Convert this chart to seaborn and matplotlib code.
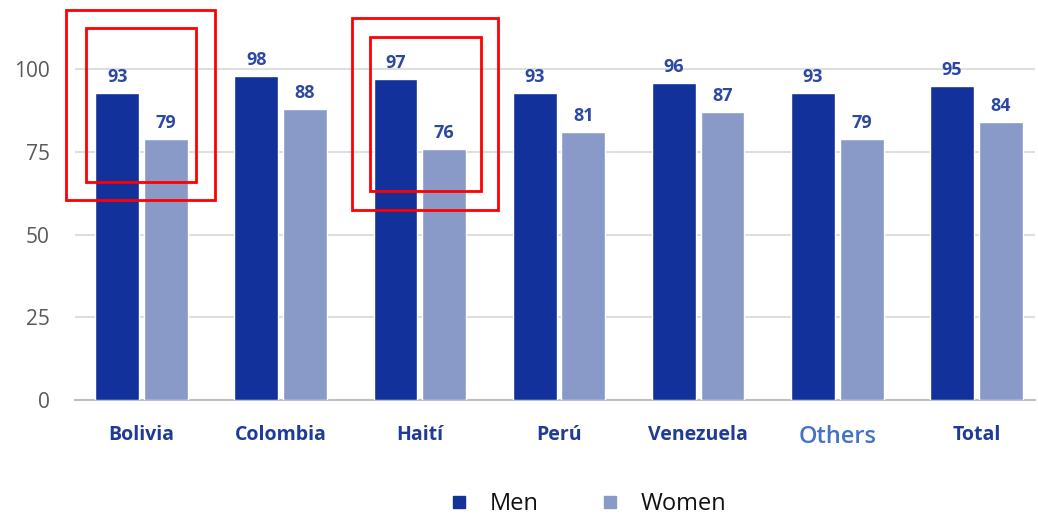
import matplotlib
matplotlib.use("Agg")
import matplotlib.pyplot as plt
from matplotlib.patches import Rectangle
from matplotlib.lines import Line2D
import seaborn as sns
import pandas as pd

# Values per country of origin, by sex
countries = ["Bolivia", "Colombia", "Haití", "Perú", "Venezuela", "Others", "Total"]
men = [93, 98, 97, 93, 96, 93, 95]
women = [79, 88, 76, 81, 87, 79, 84]
series = ["Men", "Women"]
yticks = [0, 25, 50, 75, 100]

MEN_C = "#13319a"
WOMEN_C = "#8a9ac8"
LABEL_C = "#2d48a3"
CAT_C = "#1f3a98"
OTHERS_C = "#4472c4"

df = pd.DataFrame({
    "country": countries * 2,
    "sex": [series[0]] * len(countries) + [series[1]] * len(countries),
    "value": men + women,
})

sns.set_theme(style="white")
plt.rcParams["font.family"] = ["Open Sans", "DejaVu Sans"]

fig = plt.figure(figsize=(10.38, 5.14), dpi=100)
ax = fig.add_axes([0.072, 0.222, 0.925, 0.778])

sns.barplot(data=df, x="country", y="value", hue="sex", order=countries,
            hue_order=series, palette=[MEN_C, WOMEN_C], width=0.7, gap=0.1,
            saturation=1, legend=False, ax=ax, zorder=3)

for cont in ax.containers:
    ax.bar_label(cont, fmt="%d", padding=5, color=LABEL_C,
                 fontsize=13, fontweight="bold")

ax.set_ylim(0, 121)
ax.set_xlim(-0.48, 6.42)
ax.set_yticks(yticks)
ax.yaxis.grid(True, color="#dedede", linewidth=1.5, zorder=0)
ax.set_axisbelow(True)
for side in ["left", "right", "top"]:
    ax.spines[side].set_visible(False)
ax.spines["bottom"].set_color("#bfbfbf")
ax.spines["bottom"].set_linewidth(1.5)
ax.tick_params(axis="y", length=0, pad=18, labelsize=15, labelcolor="#595959")
ax.tick_params(axis="x", length=0, pad=18)
ax.set_xlabel("")
ax.set_ylabel("")

for lbl in ax.get_xticklabels():
    if lbl.get_text() == "Others":
        lbl.set_color(OTHERS_C)
        lbl.set_fontsize(17)
        lbl.set_fontweight("semibold")
    else:
        lbl.set_color(CAT_C)
        lbl.set_fontsize(14)
        lbl.set_fontweight("bold")

# Highlight boxes around Bolivia and Haití
boxes = [
    (0, -0.54, 0.525, 60.6, 117.9),
    (0, -0.40, 0.39, 66.0, 112.4),
    (2, -0.49, 0.56, 57.6, 115.5),
    (2, -0.36, 0.44, 63.3, 109.7),
]
for idx, x0, x1, y0, y1 in boxes:
    ax.add_patch(Rectangle((idx + x0, y0), x1 - x0, y1 - y0, fill=False,
                           edgecolor="#ff0000", linewidth=2, zorder=5,
                           clip_on=False))

handles = [Line2D([], [], marker="s", linestyle="", markersize=8,
                  markerfacecolor=c, markeredgecolor=c)
           for c in (MEN_C, WOMEN_C)]
fig.legend(handles, series, loc="lower center", bbox_to_anchor=(0.562, -0.045),
           ncol=2, frameon=False, fontsize=17, handletextpad=0.5,
           columnspacing=2.2, handlelength=1.6, labelcolor="#111111")

fig.savefig("out.png", dpi=100)
